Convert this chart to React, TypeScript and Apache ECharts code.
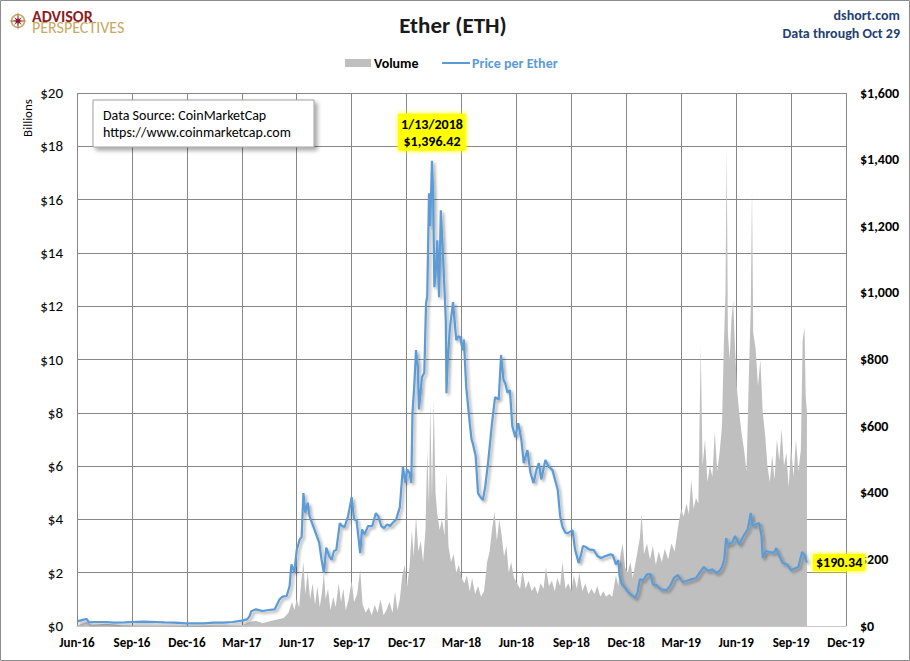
import React, { useEffect, useRef } from "react";
import * as echarts from "echarts";

// ---------- DATA ----------
const xTickLabels = [
  "Jun-16", "Sep-16", "Dec-16", "Mar-17", "Jun-17", "Sep-17", "Dec-17", "Mar-18",
  "Jun-18", "Sep-18", "Dec-18", "Mar-19", "Jun-19", "Sep-19", "Dec-19",
];

// Price per Ether (USD)
const price2016: [string, number][] = [
  ["2016-06-01", 14], ["2016-06-12", 19], ["2016-06-17", 21], ["2016-06-20", 11],
  ["2016-07-01", 12], ["2016-07-20", 12], ["2016-08-01", 10], ["2016-08-20", 11],
  ["2016-09-01", 12], ["2016-09-20", 13], ["2016-10-10", 12], ["2016-10-25", 11],
  ["2016-11-10", 10], ["2016-11-30", 8], ["2016-12-15", 8], ["2016-12-31", 8],
];
const price2017: [string, number][] = [
  ["2017-01-15", 10], ["2017-02-01", 10], ["2017-02-15", 12], ["2017-03-01", 16],
  ["2017-03-10", 20], ["2017-03-14", 29], ["2017-03-17", 44], ["2017-03-25", 50],
  ["2017-04-05", 45], ["2017-04-15", 48], ["2017-04-25", 50], ["2017-05-03", 80],
  ["2017-05-08", 88], ["2017-05-15", 90], ["2017-05-20", 120], ["2017-05-23", 185],
  ["2017-05-28", 160], ["2017-06-01", 228], ["2017-06-06", 260], ["2017-06-09", 267],
  ["2017-06-12", 399], ["2017-06-15", 340], ["2017-06-19", 370], ["2017-06-22", 330],
  ["2017-06-28", 300], ["2017-07-03", 275], ["2017-07-08", 250], ["2017-07-12", 200],
  ["2017-07-16", 160], ["2017-07-20", 235], ["2017-07-25", 210], ["2017-07-29", 198],
  ["2017-08-02", 225], ["2017-08-06", 228], ["2017-08-12", 309], ["2017-08-16", 300],
  ["2017-08-20", 297], ["2017-08-26", 330], ["2017-09-01", 387], ["2017-09-05", 320],
  ["2017-09-09", 318], ["2017-09-15", 219], ["2017-09-18", 290], ["2017-09-22", 275],
  ["2017-09-28", 300], ["2017-10-05", 300], ["2017-10-11", 339], ["2017-10-15", 330],
  ["2017-10-20", 300], ["2017-10-25", 294], ["2017-10-30", 305], ["2017-11-04", 300],
  ["2017-11-08", 309], ["2017-11-14", 320], ["2017-11-20", 357], ["2017-11-25", 477],
  ["2017-11-29", 430], ["2017-12-02", 470], ["2017-12-06", 460], ["2017-12-09", 429],
  ["2017-12-11", 639], ["2017-12-14", 720], ["2017-12-17", 828], ["2017-12-20", 780],
  ["2017-12-22", 650], ["2017-12-27", 747], ["2017-12-31", 760],
];
const price2018: [string, number][] = [
  ["2018-01-03", 969], ["2018-01-05", 990], ["2018-01-08", 1299], ["2018-01-10", 1200],
  ["2018-01-13", 1396.42], ["2018-01-15", 1300], ["2018-01-17", 1017], ["2018-01-19", 1050],
  ["2018-01-22", 1158], ["2018-01-25", 987], ["2018-01-28", 1248], ["2018-02-01", 1100],
  ["2018-02-05", 918], ["2018-02-06", 699], ["2018-02-08", 800], ["2018-02-11", 888],
  ["2018-02-16", 972], ["2018-02-21", 858], ["2018-02-24", 870], ["2018-02-27", 867],
  ["2018-03-03", 828], ["2018-03-05", 860], ["2018-03-09", 717], ["2018-03-15", 609],
  ["2018-03-18", 560], ["2018-03-20", 549], ["2018-03-25", 510], ["2018-03-29", 399],
  ["2018-04-01", 390], ["2018-04-06", 378], ["2018-04-10", 420], ["2018-04-15", 498],
  ["2018-04-21", 609], ["2018-04-26", 687], ["2018-05-02", 680], ["2018-05-06", 813],
  ["2018-05-10", 740], ["2018-05-13", 729], ["2018-05-17", 700], ["2018-05-21", 708],
  ["2018-05-25", 600], ["2018-05-30", 567], ["2018-06-04", 609], ["2018-06-09", 560],
  ["2018-06-13", 489], ["2018-06-19", 528], ["2018-06-24", 460], ["2018-06-29", 429],
  ["2018-07-04", 470], ["2018-07-08", 489], ["2018-07-12", 440], ["2018-07-19", 498],
  ["2018-07-24", 480], ["2018-07-31", 468], ["2018-08-09", 408], ["2018-08-13", 330],
  ["2018-08-17", 297], ["2018-08-22", 280], ["2018-08-26", 279], ["2018-09-03", 288],
  ["2018-09-07", 230], ["2018-09-13", 189], ["2018-09-17", 215], ["2018-09-20", 240],
  ["2018-09-25", 237], ["2018-09-30", 230], ["2018-10-08", 228], ["2018-10-14", 210],
  ["2018-10-20", 204], ["2018-10-28", 210], ["2018-11-05", 215], ["2018-11-09", 213],
  ["2018-11-14", 185], ["2018-11-18", 198], ["2018-11-20", 150], ["2018-11-24", 125],
  ["2018-11-28", 117], ["2018-12-05", 100], ["2018-12-12", 90], ["2018-12-16", 84],
  ["2018-12-20", 100], ["2018-12-24", 140], ["2018-12-30", 138],
];
const price2019: [string, number][] = [
  ["2019-01-05", 155], ["2019-01-11", 156], ["2019-01-15", 125], ["2019-01-21", 123],
  ["2019-01-28", 110], ["2019-02-07", 108], ["2019-02-12", 120], ["2019-02-18", 145],
  ["2019-02-24", 153], ["2019-03-03", 132], ["2019-03-10", 135], ["2019-03-18", 140],
  ["2019-03-26", 144], ["2019-04-03", 165], ["2019-04-08", 177], ["2019-04-15", 165],
  ["2019-04-22", 170], ["2019-04-28", 159], ["2019-05-04", 165], ["2019-05-08", 177],
  ["2019-05-12", 200], ["2019-05-15", 264], ["2019-05-18", 245], ["2019-05-25", 249],
  ["2019-05-30", 270], ["2019-06-06", 245], ["2019-06-14", 273], ["2019-06-20", 290],
  ["2019-06-25", 339], ["2019-06-28", 300], ["2019-07-01", 303], ["2019-07-09", 309],
  ["2019-07-13", 270], ["2019-07-15", 204], ["2019-07-20", 225], ["2019-07-27", 222],
  ["2019-08-03", 220], ["2019-08-07", 234], ["2019-08-12", 210], ["2019-08-18", 189],
  ["2019-08-25", 185], ["2019-09-01", 168], ["2019-09-06", 172], ["2019-09-13", 177],
  ["2019-09-19", 222], ["2019-09-22", 215], ["2019-09-27", 190.34],
];

// Volume (USD billions)
const volume2016: [string, number][] = [
  ["2016-06-01", 0.02], ["2016-06-17", 0.15], ["2016-06-25", 0.05], ["2016-07-20", 0.08],
  ["2016-08-15", 0.03], ["2016-09-15", 0.02], ["2016-10-15", 0.02], ["2016-11-15", 0.01],
  ["2016-12-15", 0.01],
];
const volume2017: [string, number][] = [
  ["2017-01-15", 0.02], ["2017-02-15", 0.02], ["2017-03-01", 0.03], ["2017-03-15", 0.15],
  ["2017-03-25", 0.2], ["2017-04-05", 0.1], ["2017-04-20", 0.2], ["2017-05-01", 0.25],
  ["2017-05-10", 0.3], ["2017-05-18", 0.5], ["2017-05-24", 0.9], ["2017-05-28", 0.6],
  ["2017-06-01", 1.0], ["2017-06-05", 0.7], ["2017-06-09", 1.8], ["2017-06-12", 2.4],
  ["2017-06-15", 1.2], ["2017-06-19", 2.0], ["2017-06-23", 1.0], ["2017-06-27", 1.6],
  ["2017-07-01", 0.8], ["2017-07-05", 1.5], ["2017-07-09", 0.7], ["2017-07-13", 1.3],
  ["2017-07-16", 2.0], ["2017-07-19", 1.0], ["2017-07-23", 1.4], ["2017-07-27", 0.6],
  ["2017-08-01", 1.1], ["2017-08-05", 0.7], ["2017-08-10", 1.6], ["2017-08-14", 0.9],
  ["2017-08-18", 1.4], ["2017-08-22", 0.6], ["2017-08-27", 1.0], ["2017-09-01", 1.7],
  ["2017-09-05", 0.9], ["2017-09-10", 1.2], ["2017-09-15", 2.1], ["2017-09-19", 0.8],
  ["2017-09-24", 0.5], ["2017-09-29", 0.7], ["2017-10-04", 0.4], ["2017-10-09", 0.8],
  ["2017-10-14", 0.5], ["2017-10-19", 1.0], ["2017-10-24", 0.4], ["2017-10-29", 0.6],
  ["2017-11-03", 0.9], ["2017-11-08", 0.5], ["2017-11-12", 1.3], ["2017-11-16", 0.6],
  ["2017-11-20", 1.0], ["2017-11-24", 1.9], ["2017-11-28", 2.3], ["2017-12-02", 1.5],
  ["2017-12-06", 2.2], ["2017-12-10", 3.6], ["2017-12-13", 2.6], ["2017-12-17", 4.1],
  ["2017-12-21", 2.8], ["2017-12-25", 3.2], ["2017-12-29", 2.4],
];
const volume2018: [string, number][] = [
  ["2018-01-02", 3.6], ["2018-01-05", 6.6], ["2018-01-08", 4.5], ["2018-01-10", 8.4],
  ["2018-01-13", 4.8], ["2018-01-16", 8.5], ["2018-01-19", 5.0], ["2018-01-22", 4.2],
  ["2018-01-26", 3.6], ["2018-01-30", 4.0], ["2018-02-03", 3.4], ["2018-02-06", 5.8],
  ["2018-02-09", 3.0], ["2018-02-13", 2.4], ["2018-02-17", 2.7], ["2018-02-21", 2.0],
  ["2018-02-25", 2.3], ["2018-03-01", 1.8], ["2018-03-06", 1.6], ["2018-03-10", 1.9],
  ["2018-03-15", 1.3], ["2018-03-19", 1.8], ["2018-03-24", 1.2], ["2018-03-29", 1.5],
  ["2018-04-03", 1.1], ["2018-04-08", 1.3], ["2018-04-13", 2.4], ["2018-04-17", 2.8],
  ["2018-04-21", 3.6], ["2018-04-25", 4.3], ["2018-04-29", 3.2], ["2018-05-03", 4.0],
  ["2018-05-07", 3.4], ["2018-05-11", 2.6], ["2018-05-15", 3.0], ["2018-05-19", 2.0],
  ["2018-05-23", 2.4], ["2018-05-28", 1.8], ["2018-06-02", 1.6], ["2018-06-07", 1.4],
  ["2018-06-11", 2.1], ["2018-06-16", 1.4], ["2018-06-21", 1.7], ["2018-06-26", 1.3],
  ["2018-07-01", 1.5], ["2018-07-06", 1.2], ["2018-07-11", 1.6], ["2018-07-16", 1.4],
  ["2018-07-20", 2.2], ["2018-07-25", 1.5], ["2018-07-30", 1.7], ["2018-08-04", 1.3],
  ["2018-08-08", 1.8], ["2018-08-13", 1.5], ["2018-08-17", 2.4], ["2018-08-22", 1.4],
  ["2018-08-27", 1.6], ["2018-09-01", 1.3], ["2018-09-05", 1.9], ["2018-09-10", 1.4],
  ["2018-09-14", 2.0], ["2018-09-19", 1.3], ["2018-09-24", 1.6], ["2018-09-29", 1.2],
  ["2018-10-04", 1.4], ["2018-10-09", 1.2], ["2018-10-14", 1.5], ["2018-10-19", 1.1],
  ["2018-10-24", 1.3], ["2018-10-29", 1.1], ["2018-11-03", 1.2], ["2018-11-08", 1.1],
  ["2018-11-14", 1.9], ["2018-11-18", 1.5], ["2018-11-21", 2.6], ["2018-11-25", 3.1],
  ["2018-11-29", 2.2], ["2018-12-03", 2.0], ["2018-12-08", 2.4], ["2018-12-12", 1.8],
  ["2018-12-16", 2.3], ["2018-12-20", 2.8], ["2018-12-24", 3.3], ["2018-12-27", 4.2],
  ["2018-12-31", 2.7],
];
const volume2019: [string, number][] = [
  ["2019-01-05", 3.1], ["2019-01-10", 2.5], ["2019-01-15", 3.0], ["2019-01-20", 2.3],
  ["2019-01-25", 2.8], ["2019-01-30", 2.4], ["2019-02-04", 2.9], ["2019-02-09", 2.5],
  ["2019-02-14", 3.1], ["2019-02-19", 2.8], ["2019-02-24", 3.7], ["2019-03-01", 4.4],
  ["2019-03-05", 4.1], ["2019-03-10", 4.6], ["2019-03-14", 4.2], ["2019-03-18", 5.5],
  ["2019-03-22", 4.4], ["2019-03-26", 4.8], ["2019-03-30", 4.6], ["2019-04-03", 10.5],
  ["2019-04-06", 6.0], ["2019-04-10", 7.0], ["2019-04-14", 5.4], ["2019-04-18", 6.0],
  ["2019-04-22", 5.6], ["2019-04-26", 7.3], ["2019-04-30", 5.8], ["2019-05-04", 6.5],
  ["2019-05-08", 7.5], ["2019-05-11", 10.4], ["2019-05-14", 12.5], ["2019-05-16", 18.0],
  ["2019-05-18", 11.0], ["2019-05-21", 10.0], ["2019-05-24", 11.5], ["2019-05-27", 12.2],
  ["2019-05-30", 10.5], ["2019-06-02", 9.0], ["2019-06-06", 8.0], ["2019-06-10", 7.2],
  ["2019-06-14", 6.6], ["2019-06-18", 5.8], ["2019-06-22", 9.5], ["2019-06-25", 12.0],
  ["2019-06-27", 16.4], ["2019-06-29", 11.0], ["2019-07-03", 10.4], ["2019-07-07", 9.0],
  ["2019-07-11", 10.0], ["2019-07-15", 8.0], ["2019-07-19", 7.2], ["2019-07-23", 6.0],
  ["2019-07-27", 5.4], ["2019-07-31", 6.4], ["2019-08-04", 5.5], ["2019-08-08", 7.0],
  ["2019-08-12", 6.2], ["2019-08-16", 7.4], ["2019-08-20", 6.0], ["2019-08-24", 6.5],
  ["2019-08-28", 5.2], ["2019-09-01", 6.8], ["2019-09-05", 5.6], ["2019-09-09", 7.0],
  ["2019-09-13", 5.8], ["2019-09-17", 6.6], ["2019-09-20", 10.7], ["2019-09-23", 11.2],
  ["2019-09-25", 8.6], ["2019-09-27", 8.0],
];

// ---------- helpers ----------
// months elapsed since 1 Jun 2016 (fractional)
function toMonthIndex(d: string): number {
  const [y, m, day] = d.split("-").map(Number);
  const dim = new Date(y, m, 0).getDate();
  return (y - 2016) * 12 + (m - 6) + (day - 1) / dim;
}

const FONT = "Carlito, Lato, 'Liberation Sans', sans-serif";

export default function App() {
  const ref = useRef<HTMLDivElement>(null);

  useEffect(() => {
    if (!ref.current) return;
    const chart = echarts.init(ref.current, undefined, { renderer: "svg" });

    const priceAll = [...price2016, ...price2017, ...price2018, ...price2019];
    const volumeAll = [...volume2016, ...volume2017, ...volume2018, ...volume2019];
    const priceData = priceAll.map(([d, v]) => [toMonthIndex(d), v]);
    const volumeData = volumeAll.map(([d, v]) => [toMonthIndex(d), v]);

    let peak = priceData[0];
    priceData.forEach((p) => { if (p[1] > peak[1]) peak = p; });
    const peakDate = priceAll.find(([, v]) => v === peak[1])![0];
    const [py, pm, pd] = peakDate.split("-").map(Number);
    const last = priceData[priceData.length - 1];

    const fmtUsd = (v: number, dec = 0) =>
      "$" + v.toLocaleString("en-US", { minimumFractionDigits: dec, maximumFractionDigits: dec });

    // logo star points
    const cx = 18, cy = 21;
    const star: number[][] = [];
    for (let i = 0; i < 16; i++) {
      const a = (i * Math.PI) / 8 - Math.PI / 2;
      const r = i % 4 === 0 ? 9 : i % 2 === 0 ? 5.5 : 2;
      star.push([cx + r * Math.cos(a), cy + r * Math.sin(a)]);
    }

    const yellowLabel = {
      show: true,
      color: "#000",
      fontFamily: FONT,
      fontWeight: "bold" as const,
      fontSize: 14,
      backgroundColor: "#ffff00",
      padding: [2, 3, 1, 3],
      shadowColor: "#ffff00",
      shadowBlur: 5,
    };

    chart.setOption({
      animation: false,
      backgroundColor: "#ffffff",
      grid: { left: 77, right: 64, top: 93, bottom: 35, containLabel: false },
      xAxis: {
        type: "value",
        min: 0,
        max: 42,
        interval: 3,
        axisLine: { show: true, lineStyle: { color: "#c8c8c8", width: 1 } },
        axisTick: { show: false },
        splitLine: { show: true, lineStyle: { color: "#878787", width: 1 } },
        axisLabel: {
          margin: 10,
          color: "#000",
          fontFamily: FONT,
          fontWeight: "bold",
          fontSize: 13,
          formatter: (v: number) => xTickLabels[Math.round(v / 3)] ?? "",
        },
      },
      yAxis: [
        {
          type: "value",
          min: 0,
          max: 20,
          interval: 2,
          axisLine: { show: false },
          axisTick: { show: false },
          splitLine: { show: true, lineStyle: { color: "#878787", width: 1 } },
          axisLabel: {
            margin: 14,
            color: "#000",
            fontFamily: FONT,
            fontSize: 15,
            formatter: (v: number) => "$" + v,
          },
        },
        {
          type: "value",
          min: 0,
          max: 1600,
          interval: 200,
          position: "right",
          axisLine: { show: false },
          axisTick: { show: false },
          splitLine: { show: false },
          axisLabel: {
            margin: 14,
            color: "#000",
            fontFamily: FONT,
            fontWeight: "bold",
            fontSize: 14,
            formatter: (v: number) => fmtUsd(v),
          },
        },
      ],
      series: [
        {
          name: "Volume",
          type: "line",
          yAxisIndex: 0,
          data: volumeData,
          showSymbol: false,
          symbol: "none",
          lineStyle: { width: 0 },
          areaStyle: { color: "#bfbfbf", opacity: 1 },
          z: 1,
        },
        {
          name: "Price per Ether",
          type: "line",
          yAxisIndex: 1,
          data: priceData,
          showSymbol: false,
          symbol: "none",
          lineStyle: {
            color: "#5b9bd5",
            width: 2.2,
            shadowColor: "rgba(0,0,0,0.35)",
            shadowBlur: 3,
            shadowOffsetX: 2,
            shadowOffsetY: 2,
          },
          z: 3,
          markPoint: {
            symbol: "circle",
            symbolSize: 0,
            silent: true,
            data: [
              {
                coord: peak,
                label: {
                  ...yellowLabel,
                  position: "top",
                  distance: 10,
                  lineHeight: 17,
                  align: "center",
                  formatter: `${pm}/${pd}/${py}\n${fmtUsd(peak[1], 2)}`,
                },
              },
              {
                coord: last,
                label: {
                  ...yellowLabel,
                  position: "right",
                  distance: 6,
                  formatter: fmtUsd(last[1], 2),
                },
              },
            ],
          },
        },
      ],
      graphic: [
        // outer frame
        {
          type: "rect",
          silent: true,
          z: 100,
          shape: { x: 0.5, y: 0.5, width: 909, height: 660 },
          style: { fill: "none", stroke: "#8c8c8c", lineWidth: 1 },
        },
        // logo
        {
          type: "circle",
          silent: true,
          shape: { cx, cy, r: 6.5 },
          style: { fill: "none", stroke: "#c9a863", lineWidth: 1.5 },
        },
        {
          type: "polygon",
          silent: true,
          shape: { points: star },
          style: { fill: "#8b1e24" },
        },
        {
          type: "text",
          silent: true,
          style: {
            x: 32, y: 22,
            text: "{a|ADVISOR}\n{b|PERSPECTIVES}",
            textVerticalAlign: "middle",
            rich: {
              a: { fill: "#8b1e24", fontFamily: FONT, fontWeight: "bold", fontSize: 16, lineHeight: 11 },
              b: { fill: "#c9a863", fontFamily: FONT, fontSize: 16, lineHeight: 11 },
            },
          },
        },
        // title
        {
          type: "text",
          silent: true,
          style: {
            x: 453, y: 25, text: "Ether (ETH)", fill: "#1a1a1a",
            font: `bold 23px ${FONT}`, textAlign: "center", textVerticalAlign: "middle",
          },
        },
        // top right
        {
          type: "text",
          silent: true,
          style: {
            x: 900, y: 15, text: "dshort.com", fill: "#243f73",
            font: `bold 14px ${FONT}`, textAlign: "right", textVerticalAlign: "middle",
          },
        },
        {
          type: "text",
          silent: true,
          style: {
            x: 900, y: 33, text: "Data through Oct 29", fill: "#243f73",
            font: `bold 14px ${FONT}`, textAlign: "right", textVerticalAlign: "middle",
          },
        },
        // legend
        {
          type: "rect",
          silent: true,
          shape: { x: 345, y: 59, width: 26, height: 8 },
          style: { fill: "#bfbfbf" },
        },
        {
          type: "text",
          silent: true,
          style: {
            x: 374, y: 63, text: "Volume", fill: "#000",
            font: `bold 14px ${FONT}`, textVerticalAlign: "middle",
          },
        },
        {
          type: "line",
          silent: true,
          shape: { x1: 442, y1: 63, x2: 470, y2: 63 },
          style: { stroke: "#5b9bd5", lineWidth: 2 },
        },
        {
          type: "text",
          silent: true,
          style: {
            x: 472, y: 63, text: "Price per Ether", fill: "#5b9bd5",
            font: `bold 14px ${FONT}`, textVerticalAlign: "middle",
          },
        },
        // Billions axis title
        {
          type: "text",
          silent: true,
          x: 27,
          y: 118,
          rotation: Math.PI / 2,
          style: {
            x: 0, y: 0, text: "Billions", fill: "#000",
            font: `13px ${FONT}`, textAlign: "center", textVerticalAlign: "middle",
          },
        },
        // data source box
        {
          type: "rect",
          silent: true,
          z: 50,
          shape: { x: 93, y: 100, width: 221, height: 47 },
          style: {
            fill: "#ffffff", stroke: "#a0a0a0", lineWidth: 1,
            shadowColor: "rgba(0,0,0,0.35)", shadowBlur: 4, shadowOffsetX: 3, shadowOffsetY: 3,
          },
        },
        {
          type: "text",
          silent: true,
          z: 51,
          style: {
            x: 103, y: 115, text: "Data Source: CoinMarketCap", fill: "#000",
            font: `14px ${FONT}`, textVerticalAlign: "middle",
          },
        },
        {
          type: "text",
          silent: true,
          z: 51,
          style: {
            x: 103, y: 132, text: "https://www.coinmarketcap.com", fill: "#000",
            font: `14px ${FONT}`, textVerticalAlign: "middle",
          },
        },
      ],
    });

    return () => chart.dispose();
  }, []);

  return (
    <div
      ref={ref}
      style={{ position: "fixed", left: 0, top: 0, width: 910, height: 661, background: "#fff" }}
    />
  );
}
